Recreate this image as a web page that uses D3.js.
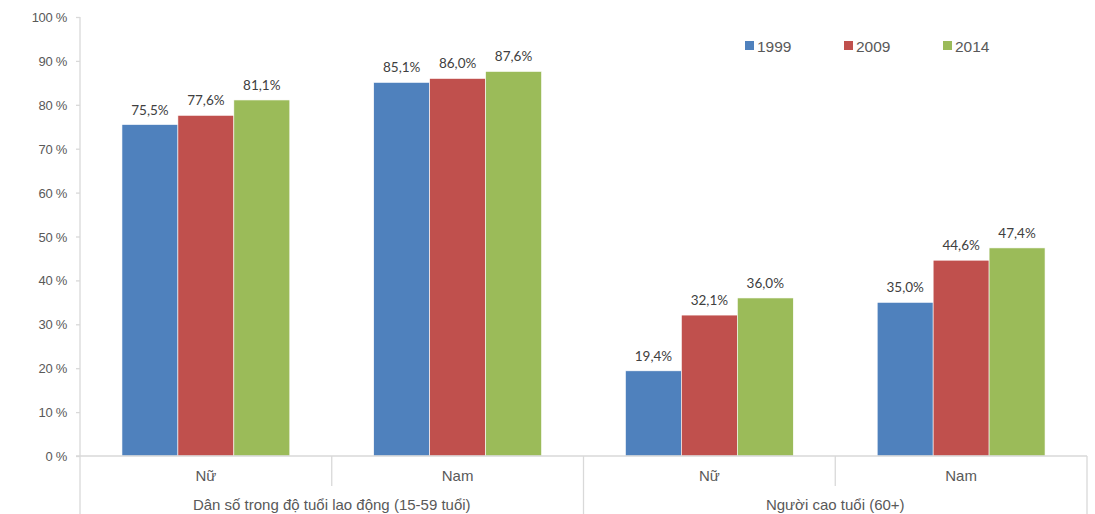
<!DOCTYPE html>
<html><head><meta charset="utf-8">
<script src="https://cdn.jsdelivr.net/npm/d3@7/dist/d3.min.js"></script>
<style>body{margin:0;background:#fff;} svg{display:block;}</style>
</head><body>
<svg id="c" width="1095" height="514"></svg>
<script>
const groups = ["Dân số trong độ tuổi lao động (15-59 tuổi)", "Người cao tuổi (60+)"];
const categories = ["Nữ", "Nam", "Nữ", "Nam"];
const seriesNames = ["1999", "2009", "2014"];
const v1999 = [75.5, 85.1, 19.4, 35.0];
const v2009 = [77.6, 86.0, 32.1, 44.6];
const v2014 = [81.1, 87.6, 36.0, 47.4];
const yTicks = [0,10,20,30,40,50,60,70,80,90,100];
const colors = ["#4F81BD", "#C0504D", "#9BBB59"];

(function(){
const series = [v1999, v2009, v2014];
const svg = d3.select("#c");
const mLeft = 80, mRight = 1087, mTop = 17, mBottom = 456;
const axisColor = "#d9d9d9";
const textColor = "#595959";

const y = d3.scaleLinear().domain([0,100]).range([mBottom, mTop]);
const x0 = d3.scaleBand().domain(d3.range(categories.length)).range([mLeft, mRight]).paddingInner(0).paddingOuter(0);
const x1 = d3.scaleBand().domain(d3.range(seriesNames.length)).range([0, x0.bandwidth()]).paddingOuter(0.75).paddingInner(0);

// y axis
const yAxis = d3.axisLeft(y).tickValues(yTicks).tickFormat(d => d + " %").tickSize(4).tickPadding(9);
const yg = svg.append("g").attr("transform", `translate(${mLeft},0)`).call(yAxis);
yg.select(".domain").remove();
yg.selectAll(".tick line").attr("stroke", axisColor).attr("stroke-width", 1.3);
yg.selectAll(".tick text").attr("fill", textColor).attr("dy", "0.35em").style("font-family", "Liberation Sans, Arial, sans-serif").style("font-size", "13px").style("letter-spacing", "-0.3px");
svg.append("line").attr("x1", mLeft).attr("x2", mLeft).attr("y1", mTop).attr("y2", 514).attr("stroke", axisColor).attr("stroke-width", 1.3);

// bars
const catG = svg.selectAll("g.cat").data(categories).join("g").attr("class","cat")
  .attr("transform", (d,i) => `translate(${x0(i)},0)`);
catG.selectAll("rect").data((d,i) => series.map((s,j) => ({v: s[i], j})))
  .join("rect")
  .attr("x", d => x1(d.j)).attr("width", x1.bandwidth())
  .attr("y", d => y(d.v)).attr("height", d => mBottom - y(d.v))
  .attr("fill", d => colors[d.j]).attr("stroke", "#fff").attr("stroke-width", 0.6);
catG.selectAll("text.lbl").data((d,i) => series.map((s,j) => ({v: s[i], j})))
  .join("text").attr("class","lbl")
  .attr("x", d => x1(d.j) + x1.bandwidth()/2).attr("y", d => y(d.v) - 10)
  .attr("text-anchor","middle").attr("fill", "#404040")
  .style("font-family", "Lato, Liberation Sans, sans-serif").style("font-size", "13.5px")
  .text(d => d.v.toFixed(1).replace(".", ",") + "%");

// x axis
svg.append("line").attr("x1", mLeft - 4).attr("x2", mRight).attr("y1", mBottom).attr("y2", mBottom).attr("stroke", axisColor).attr("stroke-width", 1.3);
categories.forEach((c,i) => {
  const xe = x0(i) + x0.bandwidth();
  const isGroupEdge = (i % 2 === 1);
  svg.append("line").attr("x1", xe).attr("x2", xe).attr("y1", mBottom).attr("y2", isGroupEdge ? 514 : 486)
    .attr("stroke", axisColor).attr("stroke-width", 1.3);
  svg.append("text").attr("x", x0(i) + x0.bandwidth()/2).attr("y", 481).attr("text-anchor","middle")
    .attr("fill", textColor).style("font-family","Liberation Sans, Arial, sans-serif").style("font-size","15px").text(c);
});
groups.forEach((g,k) => {
  const xs = x0(k*2), xe = x0(k*2+1) + x0.bandwidth();
  svg.append("text").attr("x", (xs+xe)/2).attr("y", 510).attr("text-anchor","middle")
    .attr("fill", textColor).style("font-family","Liberation Sans, Arial, sans-serif").style("font-size","15px").text(g);
});

// legend
const legX = [745, 844, 943];
seriesNames.forEach((s,j) => {
  svg.append("rect").attr("x", legX[j]).attr("y", 41).attr("width", 9).attr("height", 9).attr("fill", colors[j]);
  svg.append("text").attr("x", legX[j] + 12).attr("y", 51.5).attr("fill", textColor)
    .style("font-family","Liberation Sans, Arial, sans-serif").style("font-size","15.5px").text(s);
});
})();
</script>
</body></html>
